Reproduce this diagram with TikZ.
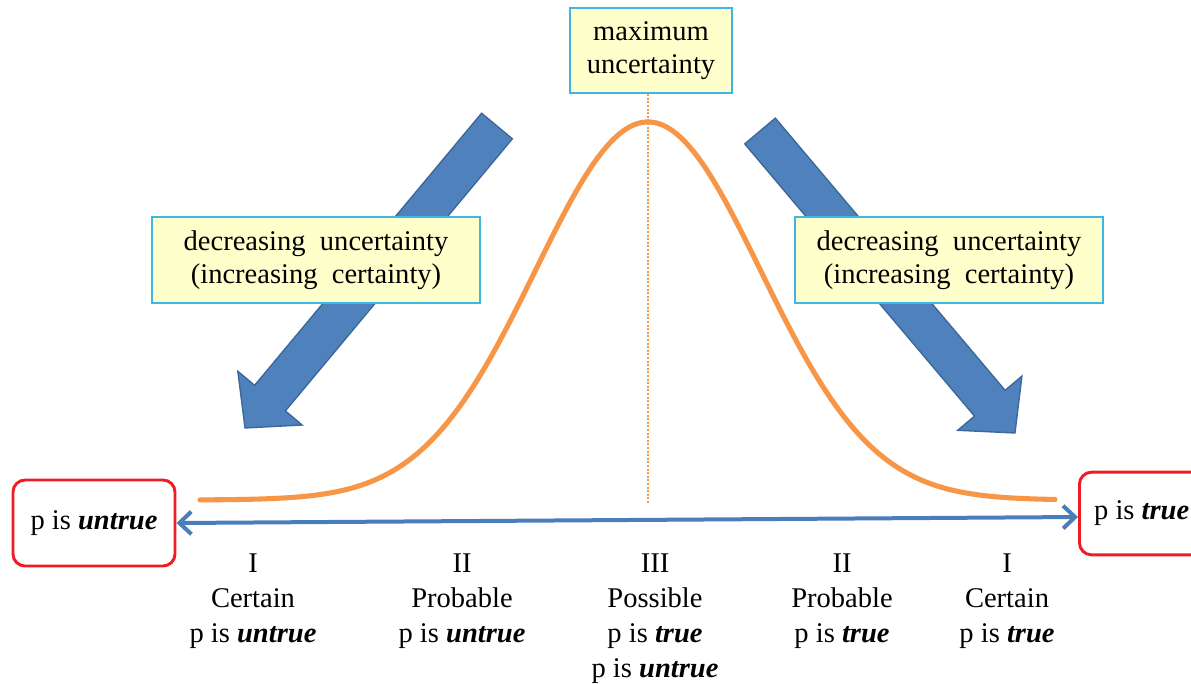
\documentclass[tikz,border=0pt]{standalone}
\usepackage{fontspec}
\setmainfont{Liberation Serif}
\usetikzlibrary{arrows.meta,calc}
\definecolor{barrow}{HTML}{4F81BD}
\definecolor{barrowedge}{HTML}{3C679A}
\definecolor{bline}{HTML}{4A7EBB}
\definecolor{curveor}{HTML}{F79646}
\definecolor{boxfill}{HTML}{FFFFCC}
\definecolor{boxedge}{HTML}{3DB7E4}
\definecolor{redbox}{HTML}{F01C24}
\newcommand{\bi}[1]{\textbf{\textit{#1}}}
\begin{document}
\begin{tikzpicture}[x=0.75pt,y=-0.75pt,
  yellowbox/.style={draw=boxedge, fill=boxfill, line width=1.5pt, align=center,
    font=\fontsize{21.4}{24.5}\selectfont, inner sep=0pt},
  redframe/.style={draw=redbox, line width=2.2pt, rounded corners=9pt, fill=white,
    font=\fontsize{21.4}{26}\selectfont, inner xsep=11pt},
  collabel/.style={align=center, anchor=north, inner sep=0pt,
    font=\fontsize{21.4}{26.25}\selectfont},
  bigarrow/.style={fill=barrow, draw=barrowedge, line width=1pt, line join=miter},
  bell/.style={curveor, line width=3.8pt, line cap=round},
  axisline/.style={bline, line width=3pt,
    {Straight Barb[length=9pt,width=17pt]}-{Straight Barb[length=9pt,width=17pt]}}
]
\clip (0,0) rectangle (1191,683);
\fill[white] (0,0) rectangle (1191,683);

% bell curve
\draw[bell] plot[domain=200:1055, samples=160, smooth]
  (\x, {500-378*exp(-(((\x-648)/100)^2)/2.54)});

% big arrows
\draw[bigarrow] (481.6,113.2) -- (254.6,385.3) -- (237.8,371.2) -- (245,428)
  -- (302.2,425.0) -- (285.4,410.9) -- (512.4,138.8) -- cycle;
\draw[bigarrow] (744.7,143.9) -- (974.5,416.1) -- (957.7,430.3) -- (1015,433)
  -- (1021.9,376.1) -- (1005.1,390.3) -- (775.3,118.1) -- cycle;

% boxes
\node[yellowbox, minimum width=122pt, minimum height=64pt] (topbox) at (651,50.5)
  {maximum\\uncertainty};
\node[yellowbox, minimum width=246pt, minimum height=64.5pt] (lbox) at (316,260)
  {decreasing\ \ uncertainty\\(increasing\ \ certainty)};
\node[yellowbox, minimum width=231pt, minimum height=64.5pt] (rbox) at (949,260)
  {decreasing\ \ uncertainty\\(increasing\ \ certainty)};

% dotted line
\coordinate (dotend) at (648,503);
\draw[curveor, line width=1.3pt, dash pattern=on 1.5pt off 1.2pt]
  (dotend |- topbox.south) -- (dotend);

% red boxes
\node[redframe, minimum width=121.5pt, minimum height=64.5pt] (untrue) at (94,523)
  {p is \bi{untrue}};
\node[redframe, minimum height=62pt, anchor=west] (true) at (1078,513.5)
  {p is \bi{true}};

\draw[axisline] (untrue.east) -- ($(true.west)+(0,3.5)$);

% column labels
\node[collabel] (c1) at (253,547.5) {\strut I\\Certain\\p is \bi{untrue}};
\node[collabel] (c2) at (462,547.5) {\strut II\\Probable\\p is \bi{untrue}};
\node[collabel] (c3) at (655,547.5) {\strut III\\Possible\\p is \bi{true}\\p is \bi{untrue}};
\node[collabel] (c4) at (842,547.5) {\strut II\\Probable\\p is \bi{true}};
\node[collabel] (c5) at (1007,547.5) {\strut I\\Certain\\p is \bi{true}};
\end{tikzpicture}
\end{document}
